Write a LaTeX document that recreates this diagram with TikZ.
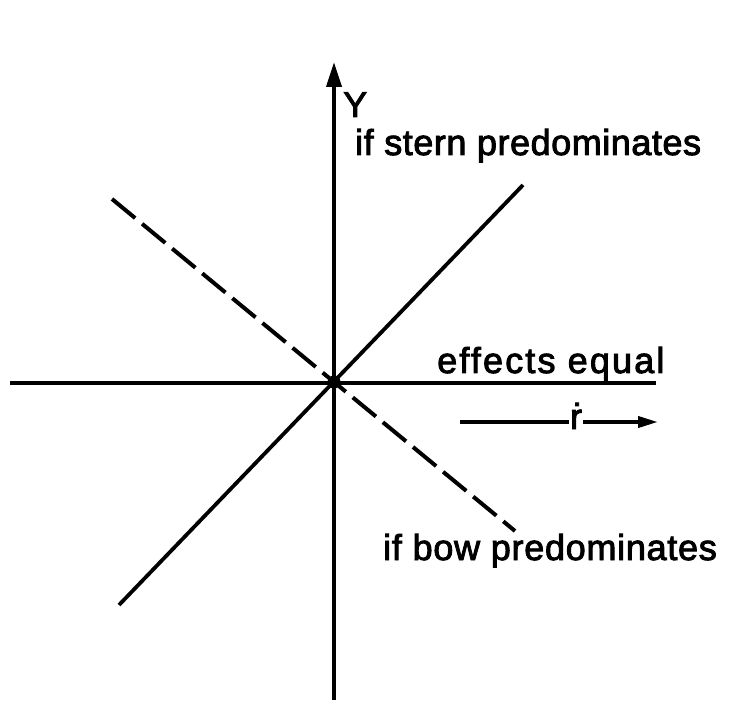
\documentclass[tikz,border=0pt]{standalone}
\usepackage{fontspec}
\setmainfont{Liberation Sans}
\usetikzlibrary{arrows.meta}
\begin{document}
\begin{tikzpicture}[x=1pt,y=1pt,
  ln/.style={line width=3.8pt},
  dashln/.style={line width=4pt, dash pattern=on 30pt off 9pt},
  lbl/.style={font=\fontsize{36}{40}\selectfont\addfontfeature{FakeBold=2.5}, inner sep=0pt, anchor=base west},
  axtip/.style={-{Triangle[length=25pt,width=15pt]}},
  rtip/.style={-{Triangle[length=20pt,width=11pt]}}]
\useasboundingbox[fill=white] (0,0) rectangle (751,718);
% key points
\coordinate (O) at (334,336);
\coordinate (ytop) at (334,656);
\coordinate (ybot) at (334,18);
\coordinate (xl) at (10,335);
\coordinate (xr) at (656,335);
\coordinate (sl) at (119,113);
\coordinate (su) at (523,533);
\coordinate (dl) at (112,519);
\coordinate (du) at (515,187);
% axes
\draw[ln,axtip] (ybot) -- (ytop);
\draw[ln] (xl) -- (xr);
% diagonals
\draw[ln] (sl) -- (su);
\draw[dashln] (dl) -- (O) -- (du);
\fill (O) circle (6.5pt);
% labels
\node[lbl] (ylab) at (343,601) {Y};
\node[lbl] (stern) at (355,563) {\addfontfeature{LetterSpace=1.5}if stern predominates};
\node[lbl] (eq) at (437,345) {\addfontfeature{LetterSpace=6}effects equal};
\node[lbl] (bow) at (383,158) {\addfontfeature{LetterSpace=2}if bow predominates};
\node[font=\fontsize{36}{40}\selectfont\addfontfeature{FakeBold=2.5}, inner sep=1pt] (r) at (576,302) {\.r};
\coordinate (rl) at (460,296);
\coordinate (rr) at (658,296);
\draw[ln] (rl) -- (r.west |- rl);
\draw[ln,rtip] (r.east |- rr) -- (rr);
\end{tikzpicture}
\end{document}
